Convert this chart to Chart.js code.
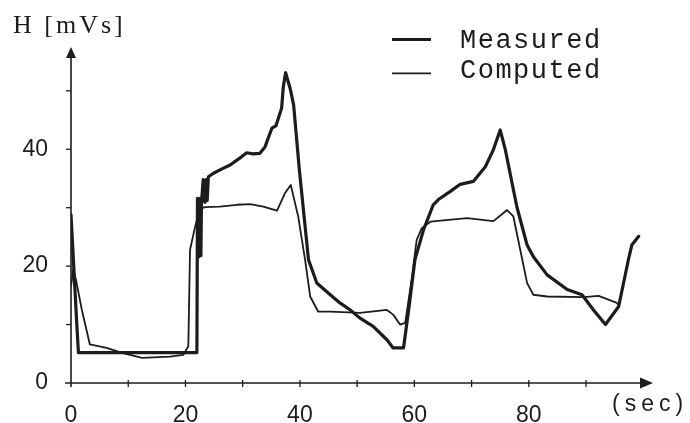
<!DOCTYPE html>
<html>
<head>
<meta charset="utf-8">
<script src="https://cdn.jsdelivr.net/npm/chart.js@4"></script>
<style>
  html, body { margin: 0; padding: 0; background: #fff; }
  #wrap { width: 690px; height: 423px; position: relative; }
</style>
</head>
<body>
<div id="wrap"><canvas id="c" width="690" height="423"></canvas></div>
<script>
// ---- data ----
const seriesNames = ["Measured", "Computed"];
const yTitle = "H [mVs]";
const xTitle = "(sec)";
const xTickValues = [0, 20, 40, 60, 80];
const yTickValues = [0, 20, 40];

const measuredTime = [0, 1.0, 1.3, 22.0, 22.1, 22.3, 22.5, 22.7, 22.8, 23.1, 23.4, 23.6, 23.8, 24.0, 24.9, 26.3, 27.8, 29.8, 30.7, 31.8, 33.0, 33.9, 35.1, 35.8, 36.8, 37.1, 37.5, 38.3, 38.9, 39.9, 41.5, 42.95, 45.3, 47.0, 48.8, 50.5, 52.8, 55.2, 56.3, 58.1, 59.0, 60.1, 61.6, 63.3, 64.2, 66.3, 68.0, 70.3, 72.4, 73.8, 75.0, 75.9, 77.9, 79.7, 80.8, 83.2, 86.7, 89.3, 91.3, 93.4, 95.7, 97.4, 98.0, 99.2];
const measuredH = [28.8, 10.3, 5.2, 5.2, 31.6, 21.6, 31.6, 21.8, 30.8, 34.8, 30.9, 34.8, 31.2, 35.3, 35.9, 36.6, 37.3, 38.7, 39.4, 39.2, 39.3, 40.4, 43.6, 44.0, 47.0, 50.7, 53.1, 50.4, 47.6, 36.5, 21.1, 17.1, 15.1, 13.7, 12.5, 11.1, 9.7, 7.4, 6.0, 6.0, 12.5, 21.1, 26.2, 30.5, 31.4, 32.8, 34.0, 34.5, 37.0, 39.9, 43.3, 39.9, 30.2, 23.6, 21.6, 18.5, 16.0, 15.1, 12.5, 10.0, 13.1, 21.1, 23.6, 25.1];

const computedTime = [0, 0.4, 0.9, 1.9, 3.3, 6.2, 9.1, 12.4, 17.3, 19.6, 20.5, 20.8, 21.7, 22.5, 23.4, 26.0, 29.0, 31.3, 33.6, 36.0, 37.4, 38.4, 39.7, 40.9, 41.8, 43.2, 45.3, 50.5, 55.2, 56.3, 57.5, 58.4, 59.6, 60.4, 61.3, 62.8, 69.2, 73.8, 75.2, 76.2, 77.3, 78.5, 79.7, 80.8, 83.2, 89.6, 92.2, 95.4, 95.8];
const computedH = [16.5, 19.5, 17.5, 12.5, 6.6, 6.0, 5.1, 4.3, 4.5, 4.8, 6.3, 22.8, 26.8, 29.8, 30.1, 30.2, 30.5, 30.6, 30.2, 29.5, 32.5, 33.9, 28.5, 21.1, 14.8, 12.2, 12.2, 12.0, 12.5, 11.7, 10.0, 10.3, 18.2, 24.5, 26.5, 27.6, 28.2, 27.7, 28.8, 29.6, 28.5, 22.8, 17.1, 15.1, 14.8, 14.7, 14.9, 13.7, 13.2];

const toPoints = (xs, ys) => xs.map((t, i) => ({ x: t, y: ys[i] }));
const INK = '#1c1c1c';

const axesPlugin = {
  id: 'handAxes',
  beforeDatasetsDraw(chart) {
    const { ctx, scales: { x, y } } = chart;
    const x0 = x.getPixelForValue(0), y0 = y.getPixelForValue(0);
    const yTop = y.getPixelForValue(y.max);
    const xEnd = x.getPixelForValue(x.max);
    ctx.save();
    ctx.strokeStyle = INK; ctx.fillStyle = INK; ctx.lineWidth = 1.6;
    // y axis + arrow
    ctx.beginPath(); ctx.moveTo(x0, y0 + 4); ctx.lineTo(x0, yTop + 9); ctx.stroke();
    ctx.beginPath(); ctx.moveTo(x0, yTop); ctx.lineTo(x0 - 5, yTop + 11); ctx.lineTo(x0 + 5, yTop + 11); ctx.closePath(); ctx.fill();
    // x axis + arrow
    ctx.beginPath(); ctx.moveTo(x0 - 6, y0); ctx.lineTo(xEnd - 10, y0); ctx.stroke();
    ctx.beginPath(); ctx.moveTo(xEnd, y0); ctx.lineTo(xEnd - 13, y0 - 5.5); ctx.lineTo(xEnd - 13, y0 + 5.5); ctx.closePath(); ctx.fill();
    // ticks
    ctx.lineWidth = 1.3;
    for (let v = 10; v <= 50; v += 10) {
      const py = y.getPixelForValue(v);
      ctx.beginPath(); ctx.moveTo(x0 - 5, py); ctx.lineTo(x0, py); ctx.stroke();
    }
    for (let v = 10; v <= 90; v += 10) {
      const px = x.getPixelForValue(v);
      ctx.beginPath(); ctx.moveTo(px, y0 - 3); ctx.lineTo(px, y0 + 4); ctx.stroke();
    }
    ctx.restore();
  },
  afterDraw(chart) {
    const { ctx } = chart;
    ctx.save();
    ctx.fillStyle = INK; ctx.strokeStyle = INK;
    ctx.textBaseline = 'alphabetic'; ctx.textAlign = 'left';
    // y title
    ctx.font = '26px "Liberation Serif"';
    ctx.letterSpacing = '3px';
    ctx.fillText(yTitle, 13, 33);
    // x title
    ctx.font = '23px "Liberation Sans"';
    ctx.letterSpacing = '5px';
    ctx.fillText(xTitle, 612, 411);
    // legend
    ctx.font = '27px "Liberation Mono"';
    ctx.letterSpacing = '1.5px';
    const rows = [[39.5, 48.3], [73.3, 78.3]];
    chart.data.datasets.forEach((ds, i) => {
      ctx.lineWidth = ds.borderWidth;
      ctx.beginPath(); ctx.moveTo(392, rows[i][0]); ctx.lineTo(431, rows[i][0]); ctx.stroke();
      ctx.fillText(ds.label, 460, rows[i][1]);
    });
    ctx.restore();
  }
};

new Chart(document.getElementById('c'), {
  type: 'scatter',
  data: {
    datasets: [
      { label: seriesNames[0], data: toPoints(measuredTime, measuredH), showLine: true, borderColor: INK, borderWidth: 3.2, pointRadius: 0, tension: 0, borderJoinStyle: 'round', borderCapStyle: 'round' },
      { label: seriesNames[1], data: toPoints(computedTime, computedH), showLine: true, borderColor: INK, borderWidth: 1.8, pointRadius: 0, tension: 0, borderJoinStyle: 'round' }
    ]
  },
  options: {
    responsive: false,
    animation: false,
    layout: { padding: { top: 47, right: 37, left: 0, bottom: 0 } },
    plugins: { legend: { display: false }, tooltip: { enabled: false } },
    scales: {
      x: {
        type: 'linear', min: 0, max: 101.7,
        grid: { display: false }, border: { display: false },
        afterFit: s => { s.height = 40; },
        afterBuildTicks: s => { s.ticks = xTickValues.map(v => ({ value: v })); },
        ticks: { color: INK, font: { family: 'Liberation Sans', size: 23 }, padding: 11, maxRotation: 0, autoSkip: false, includeBounds: false }
      },
      y: {
        min: 0, max: 57.5,
        grid: { display: false }, border: { display: false },
        afterFit: s => { s.width = 71; },
        afterBuildTicks: s => { s.ticks = yTickValues.map(v => ({ value: v })); },
        ticks: { color: INK, font: { family: 'Liberation Sans', size: 23 }, padding: 15, includeBounds: false }
      }
    }
  },
  plugins: [axesPlugin]
});
</script>
</body>
</html>
